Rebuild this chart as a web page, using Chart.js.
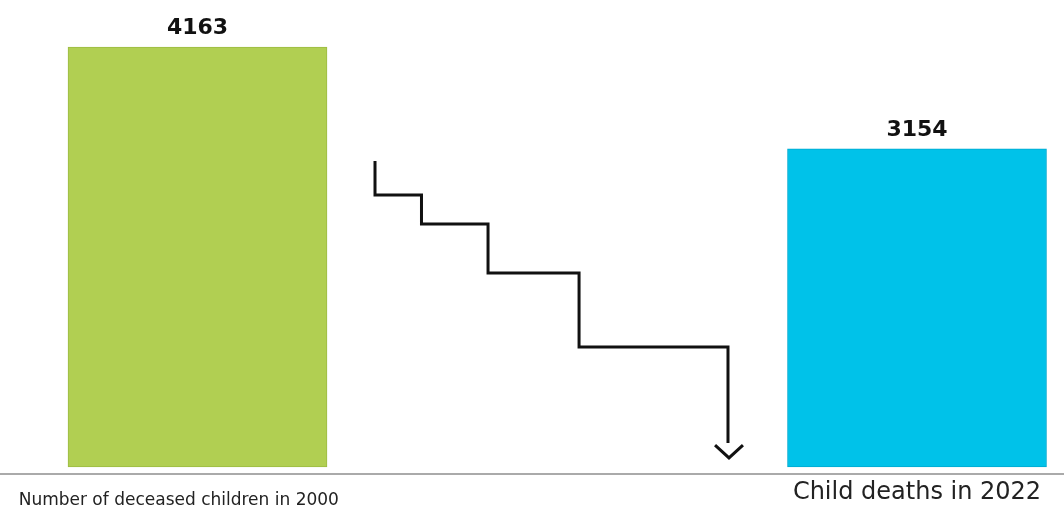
<!DOCTYPE html>
<html>
<head>
<meta charset="utf-8">
<script src="https://cdn.jsdelivr.net/npm/chart.js@4/dist/chart.umd.min.js"></script>
<style>
  html, body { margin: 0; padding: 0; background: #fff; }
  #wrap { width: 1064px; height: 509px; }
</style>
</head>
<body>
<div id="wrap"><canvas id="chart" width="1064" height="509"></canvas></div>
<script>
// categories and values
const labels = ['Number of deceased children in 2000', 'Child deaths in 2022'];
const deaths = [4163, 3154];
const barColors = ['#b1cf52', '#00c2e9'];
const barBorders = ['#9cbb42', '#00a9cf'];

// decorative falling staircase between the bars (x in category units, y in chart units)
const stepX = [0.2467, 0.3113, 0.4038, 0.5303, 0.7373, 0.7373];
const stepY = [3034, 2697, 2409, 1923, 1189, 237];
// arrow head at the foot of the staircase
const arrowX = [0.7193, 0.7387, 0.7581];
const arrowY = [217, 89];

const toPoints = (xs, ys) => xs.map((x, i) => ({ x: x, y: ys[i] }));

// value above each bar
const valueLabels = {
    id: 'valueLabels',
    afterDatasetsDraw(chart) {
        const ctx = chart.ctx;
        const meta = chart.getDatasetMeta(0);
        ctx.save();
        ctx.font = 'bold 22px "DejaVu Sans"';
        ctx.fillStyle = '#111';
        ctx.textAlign = 'center';
        ctx.textBaseline = 'alphabetic';
        meta.data.forEach((bar, i) => {
            ctx.fillText(String(deaths[i]), bar.x, bar.y - 13);
        });
        ctx.restore();
    }
};

new Chart(document.getElementById('chart').getContext('2d'), {
    type: 'bar',
    data: {
        datasets: [{
            data: labels.map((l, i) => ({ x: i, y: deaths[i] })),
            backgroundColor: barColors,
            borderColor: barBorders,
            borderWidth: 1,
            borderSkipped: false,
            barThickness: 259
        }, {
            type: 'line',
            data: toPoints(stepX, stepY),
            stepped: 'after',
            borderColor: '#111',
            borderWidth: 3,
            borderJoinStyle: 'miter',
            pointRadius: 0,
            fill: false
        }, {
            type: 'line',
            data: toPoints(arrowX, [arrowY[0], arrowY[1], arrowY[0]]),
            borderColor: '#111',
            borderWidth: 3,
            borderJoinStyle: 'miter',
            pointRadius: 0,
            fill: false
        }]
    },
    options: {
        responsive: false,
        animation: false,
        devicePixelRatio: 1,
        layout: { padding: 0 },
        plugins: {
            legend: { display: false },
            tooltip: { enabled: false }
        },
        scales: {
            x: {
                type: 'linear',
                min: -0.2745,
                max: 1.2043,
                offset: false,
                grid: { display: false, drawTicks: false },
                border: { display: true, color: '#aaaaaa', width: 2 },
                // the first caption sits a little left of its bar
                afterBuildTicks: axis => {
                    axis.ticks = labels.map((l, i) => ({ value: i === 0 ? -0.026 : i }));
                },
                afterFit: axis => { axis.height = 35; },
                ticks: {
                    padding: 2,
                    maxRotation: 0,
                    autoSkip: false,
                    color: '#222',
                    callback: value => labels[Math.round(value)],
                    font: ctx => ctx.index === 0
                        ? { family: 'DejaVu Sans', size: 17, lineHeight: 2.94 }
                        : { family: 'DejaVu Sans', size: 24, lineHeight: 1.42 }
                }
            },
            y: {
                display: false,
                min: -70,
                max: 4630
            }
        }
    },
    plugins: [valueLabels]
});
</script>
</body>
</html>
